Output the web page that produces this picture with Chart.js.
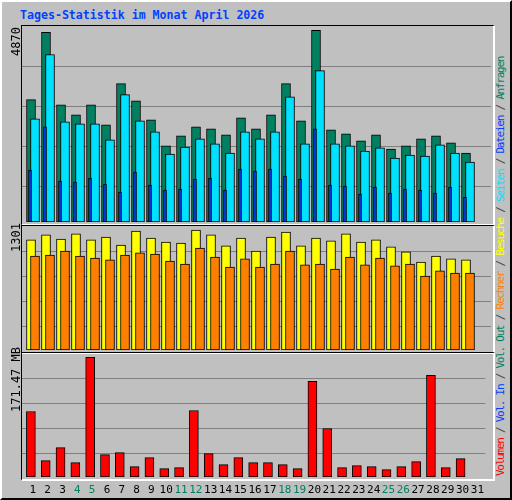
<!DOCTYPE html>
<html><head><meta charset="utf-8">
<script src="https://cdn.jsdelivr.net/npm/chart.js@4/dist/chart.umd.min.js"></script>
<style>
html,body{margin:0;padding:0;background:#c0c0c0;}
#outer{position:absolute;left:0;top:0;width:508px;height:496px;border:2px solid #000;border-top-color:#fff;border-left-color:#fff;background:#c0c0c0;overflow:hidden;}
.frame{position:absolute;border-top:1px solid #000;border-left:1px solid #000;border-right:2px solid #fff;border-bottom:2px solid #fff;}
canvas{position:absolute;}
.t{position:absolute;font-family:"DejaVu Sans Mono",monospace;white-space:nowrap;}
.rot{transform-origin:0 0;transform:rotate(-90deg);}
</style></head><body>
<div id="outer">
<div class="t" style="left:18px;top:6px;font-size:11.6px;font-weight:bold;color:#0040ff">Tages-Statistik im Monat April 2026</div>
<div class="frame" style="left:19px;top:23px;width:471px;height:198px"></div>
<div class="frame" style="left:19px;top:223px;width:471px;height:126px"></div>
<div class="frame" style="left:19px;top:350px;width:471px;height:126px"></div>
<canvas id="c1" width="469" height="196" style="left:20px;top:24px"></canvas>
<canvas id="c2" width="469" height="124" style="left:20px;top:224px"></canvas>
<canvas id="c3" width="469" height="148" style="left:20px;top:351px"></canvas>
<div class="t rot" style="left:7px;top:54px;font-size:12px;color:#000">4870</div>
<div class="t rot" style="left:7px;top:250px;font-size:12px;color:#000">1301</div>
<div class="t rot" style="left:7px;top:410px;font-size:12px;color:#000">171.47 MB</div>
<div class="t rot" style="left:492px;top:474px;font-size:11px;letter-spacing:-1.25px;color:#404040"><span style="color:#ff0000">Volumen</span> / <span style="color:#0040ff">Vol. In</span> / <span style="color:#008060">Vol. Out</span> / <span style="color:#ff8000">Rechner</span> / <span style="color:#ffff00">Besuche</span> / <span style="color:#00e0ff">Seiten</span> / <span style="color:#0040ff">Dateien</span> / <span style="color:#008060">Anfragen</span></div>
</div>
<script>
const days = Array.from({length:31},(_,i)=>i+1);
const anfragen = [3108,4819,2980,2724,2980,2469,3516,3082,2597,1933,2188,2418,2367,2214,2648,2367,2724,3516,2571,4870,2341,2239,2060,2214,1856,1933,2111,2188,2009,1754];
const dateien = [2622,4257,2546,2495,2495,2086,3235,2571,2290,1728,1907,2111,1984,1754,2290,2111,2290,3184,1984,3848,1984,1933,1805,1882,1626,1703,1677,1958,1754,1524];
const seiten = [1320,2418,1039,1013,1115,962,758,1269,937,809,834,1090,1115,809,1345,1294,1345,1166,1090,2367,937,911,707,885,732,834,809,732,885,630];
const besuche = [1193,1247,1203,1258,1193,1225,1138,1290,1214,1171,1160,1301,1247,1128,1214,1073,1225,1279,1128,1214,1182,1258,1171,1193,1117,1063,954,1019,987,976];
const rechner = [1019,1030,1073,1019,997,976,1030,1052,1041,965,932,1106,1008,900,987,900,932,1073,922,932,878,1008,922,997,911,932,802,857,835,835];
const volumen = [93.9,23.5,42.2,20.6,171.5,32.1,35.0,14.8,27.8,12.0,13.4,95.3,33.5,17.7,27.8,20.6,20.6,17.7,12.0,137.0,69.5,13.4,16.3,14.8,10.5,14.8,22.0,145.6,13.4,26.3];
const weekend = [4,5,11,12,18,19,25,26];

const PX = 15; // px per day
const XMIN = 1 - 11/PX, XMAX = XMIN + 469/PX;
function pts(arr, off){ return arr.map((v,i)=>({x:days[i]+off/PX, y:v})); }
function ds(arr, off, color, w, order){
  return {data:pts(arr,off), backgroundColor:color, borderColor:'#000', borderWidth:1,
    barThickness:w, grouped:false, order:order, borderSkipped:false};
}
function make(id, datasets, ymax, grid, showX){
  new Chart(document.getElementById(id), {
    type:'bar',
    data:{datasets},
    options:{
      responsive:false, animation:false, devicePixelRatio:1,
      layout:{padding:0},
      plugins:{legend:{display:false}, tooltip:{enabled:false}},
      scales:{
        x:{type:'linear', min:XMIN, max:XMAX, offset:false,
           display:showX,
           grid:{display:false, drawTicks:false}, border:{display:false},
           afterBuildTicks:s=>{s.ticks=days.map(d=>({value:d}));},
           afterFit:s=>{s.height=showX?24:0;},
           ticks:{padding:7, autoSkip:false, maxRotation:0,
             font:{family:'DejaVu Sans Mono', size:11},
             color:c=>weekend.includes(c.tick.value)?'#008060':'#000'}},
        y:{min:0, max:ymax, display:true,
           afterBuildTicks:s=>{s.ticks=grid.map(v=>({value:v}));},
           afterFit:s=>{s.width=0;},
           ticks:{display:false}, border:{display:false},
           grid:{color:'#808080', lineWidth:1, drawTicks:false}}
      }
    }
  });
}
make('c1',[ds(anfragen,-2,'#008060',9,3), ds(dateien,2,'#00e0ff',9,2), ds(seiten,-3,'#0040ff',3,1)],
  4981,[894,1916,2937,3959],false);
make('c2',[ds(besuche,-2,'#ffff00',9,2), ds(rechner,2,'#ff8000',9,1)],
  1344,[260,531,802,1073],false);
make('c3',[ds(volumen,-2,'#ff0000',9,1)],
  177.7,[33.5,69.5,105.4,141.3],true);
</script>
</body></html>
